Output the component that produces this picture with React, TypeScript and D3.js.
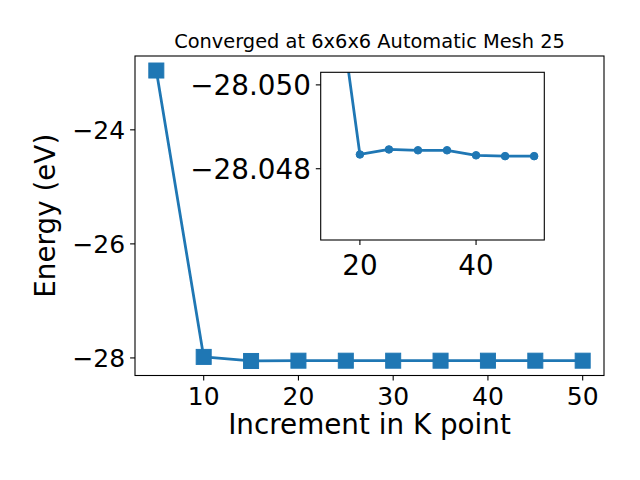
import React from "react";
import * as d3 from "d3";

const kPoints = [5, 10, 15, 20, 25, 30, 35, 40, 45, 50];
const energies = [-22.96, -27.982, -28.0534, -28.04834, -28.04846, -28.04844, -28.04844, -28.04832, -28.0483, -28.0483];
const mainXTicks = [10, 20, 30, 40, 50];
const mainYTicks = [-28, -26, -24];
const insetXTicks = [20, 40];
const insetYTicks = [-28.05, -28.048];
const insetStart = 2;
const titleText = "Converged at 6x6x6 Automatic Mesh 25";
const xLabel = "Increment in K point";
const yLabel = "Energy (eV)";

const COLOR = "#1f77b4";
const FONT = "DejaVu Sans, sans-serif";
const minus = (s: string) => s.replace("-", "\u2212");

export default function App() {
  const L = 135, R = 604, T = 56, B = 375.5;
  const xMin = d3.min(kPoints)!, xMax = d3.max(kPoints)!;
  const yMin = d3.min(energies)!, yMax = d3.max(energies)!;
  const xm = (xMax - xMin) * 0.05, ym = (yMax - yMin) * 0.05;
  const x = d3.scaleLinear().domain([xMin - xm, xMax + xm]).range([L, R]);
  const y = d3.scaleLinear().domain([yMin - ym, yMax + ym]).range([B, T]);

  const iL = 320.7, iR = 544.3, iT = 72.3, iB = 240;
  const insetK = kPoints.slice(insetStart);
  const insetE = energies.slice(insetStart);
  const ixMin = d3.min(insetK)!, ixMax = d3.max(insetK)!;
  const ixm = (ixMax - ixMin) * 0.05;
  const ix = d3.scaleLinear().domain([ixMin - ixm, ixMax + ixm]).range([iL, iR]);
  const iy = d3.scaleLinear().domain([-28.0503, -28.0463]).range([iT, iB]);

  const line = d3.line<number>().x((_, i) => x(kPoints[i])).y((d) => y(d));
  const iline = d3.line<number>().x((_, i) => ix(insetK[i])).y((d) => iy(d));
  const ms = 15;

  return (
    <div style={{ position: "fixed", left: 0, top: 0 }}>
      <svg width={640} height={480} style={{ display: "block", background: "#fff" }} fontFamily={FONT}>
        <defs>
          <clipPath id="mainClip"><rect x={L} y={T} width={R - L} height={B - T} /></clipPath>
          <clipPath id="insetClip"><rect x={iL} y={iT} width={iR - iL} height={iB - iT} /></clipPath>
        </defs>
        <rect x={0} y={0} width={640} height={480} fill="#fff" />
        {/* main axes */}
        <g clipPath="url(#mainClip)">
          <path d={line(energies)!} fill="none" stroke={COLOR} strokeWidth={2.78} strokeLinejoin="round" />
          {energies.map((e, i) => (
            <rect key={i} x={x(kPoints[i]) - ms / 2} y={y(e) - ms / 2} width={ms} height={ms} fill={COLOR} stroke={COLOR} strokeWidth={1} />
          ))}
        </g>
        <rect x={L} y={T} width={R - L} height={B - T} fill="none" stroke="#000" strokeWidth={1.1} />
        {mainXTicks.map((t) => (
          <g key={t}>
            <line x1={x(t)} x2={x(t)} y1={B} y2={B + 4.9} stroke="#000" strokeWidth={1.1} />
            <text x={x(t)} y={405} textAnchor="middle" fontSize={25}>{t}</text>
          </g>
        ))}
        {mainYTicks.map((t) => (
          <g key={t}>
            <line x1={L - 4.9} x2={L} y1={y(t)} y2={y(t)} stroke="#000" strokeWidth={1.1} />
            <text x={L - 9.8} y={y(t) + 9} textAnchor="end" fontSize={25}>{minus(String(t))}</text>
          </g>
        ))}
        <text x={(L + R) / 2} y={434} textAnchor="middle" fontSize={27.8}>{xLabel}</text>
        <text transform={`translate(54.5, ${(T + B) / 2}) rotate(-90)`} textAnchor="middle" fontSize={27.8}>{yLabel}</text>
        <text x={(L + R) / 2} y={47.5} textAnchor="middle" fontSize={19.4}>{titleText}</text>

        {/* inset */}
        <rect x={iL} y={iT} width={iR - iL} height={iB - iT} fill="#fff" />
        <g clipPath="url(#insetClip)">
          <path d={iline(insetE)!} fill="none" stroke={COLOR} strokeWidth={2.78} strokeLinejoin="round" />
          {insetE.map((e, i) => (
            <circle key={i} cx={ix(insetK[i])} cy={iy(e)} r={3.8} fill={COLOR} stroke={COLOR} strokeWidth={1} />
          ))}
        </g>
        <rect x={iL} y={iT} width={iR - iL} height={iB - iT} fill="none" stroke="#000" strokeWidth={1.1} />
        {insetXTicks.map((t) => (
          <g key={t}>
            <line x1={ix(t)} x2={ix(t)} y1={iB} y2={iB + 4.9} stroke="#000" strokeWidth={1.1} />
            <text x={ix(t)} y={275} textAnchor="middle" fontSize={27.8}>{t}</text>
          </g>
        ))}
        {insetYTicks.map((t) => (
          <g key={t}>
            <line x1={iL - 4.9} x2={iL} y1={iy(t)} y2={iy(t)} stroke="#000" strokeWidth={1.1} />
            <text x={iL - 9.8} y={iy(t) + 10} textAnchor="end" fontSize={27.8}>{minus(t.toFixed(3))}</text>
          </g>
        ))}
      </svg>
    </div>
  );
}
